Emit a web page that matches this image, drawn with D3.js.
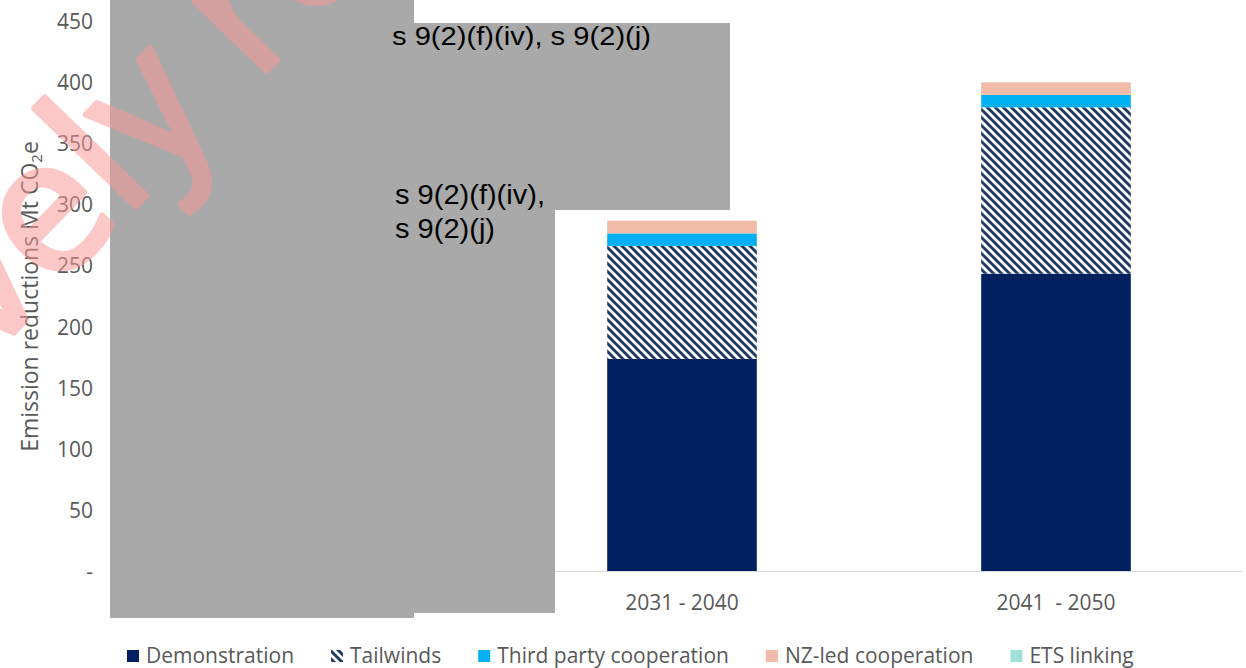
<!DOCTYPE html>
<html><head><meta charset="utf-8">
<script src="https://cdn.jsdelivr.net/npm/d3@7"></script>
<style>body{margin:0;background:#fff} svg{display:block}</style>
</head><body>
<svg id="chart" width="1246" height="668"></svg>
<script>
// ---- data ----
const categories = ["2021 - 2030", "2031 - 2040", "2041  - 2050"];
const seriesNames = ["Demonstration", "Tailwinds", "Third party cooperation", "NZ-led cooperation", "ETS linking"];
const demonstration = [70, 173.5, 243.3];
const tailwinds = [45, 92.5, 136.1];
const thirdParty = [8, 10.2, 10.1];
const nzLed = [8, 10.4, 10.3];
const etsLinking = [15, 0, 0];
const yTicks = [0, 50, 100, 150, 200, 250, 300, 350, 400, 450];
const redactionTop = ["s 9(2)(f)(iv), s 9(2)(j)"];
const redactionMid = ["s 9(2)(f)(iv),", "s 9(2)(j)"];
const watermarkText = "Proactively released";

// ---- setup ----
const svg = d3.select("#chart");
const FONT = "'Open Sans', sans-serif";
const TXT = "#595959";
const colors = ["#002060", "url(#hatch)", "#00b0f0", "#f0bca9", "#a1e2d6"];

const defs = svg.append("defs");
const pat = defs.append("pattern").attr("id", "hatch")
  .attr("patternUnits", "userSpaceOnUse").attr("width", 8).attr("height", 8);
pat.append("rect").attr("width", 8).attr("height", 8).attr("fill", "#fff");
pat.append("path").attr("d", "M-2,-2L10,10M-2,6L2,10M6,-2L10,2")
  .attr("stroke", "#1f3864").attr("stroke-width", 2.9);

const x = d3.scaleBand().domain(categories).range([121, 1243])
  .paddingInner(0.6).paddingOuter(0.3);
const y = d3.scaleLinear().domain([0, 450]).range([571, 21]);

const rows = categories.map((c, i) => ({
  cat: c,
  "Demonstration": demonstration[i],
  "Tailwinds": tailwinds[i],
  "Third party cooperation": thirdParty[i],
  "NZ-led cooperation": nzLed[i],
  "ETS linking": etsLinking[i]
}));
const stacked = d3.stack().keys(seriesNames)(rows);

// bars
svg.append("g").selectAll("g").data(stacked).join("g")
  .attr("fill", (d, i) => colors[i])
  .selectAll("rect").data(d => d).join("rect")
  .attr("x", d => x(d.data.cat))
  .attr("width", x.bandwidth())
  .attr("y", d => y(d[1]))
  .attr("height", d => Math.max(0, y(d[0]) - y(d[1])));

// baseline axis
svg.append("line").attr("x1", 121).attr("x2", 1243)
  .attr("y1", y(0) + 0.5).attr("y2", y(0) + 0.5)
  .attr("stroke", "#d9d9d9").attr("stroke-width", 1);

// y axis ticks (labels only)
const yAxis = d3.axisLeft(y).tickValues(yTicks).tickSize(0).tickPadding(0)
  .tickFormat(d => d === 0 ? "-" : d);
const yg = svg.append("g").attr("transform", "translate(93,0)").call(yAxis);
yg.select(".domain").remove();
yg.selectAll("text").attr("font-family", FONT).attr("font-size", 21)
  .attr("fill", TXT).attr("dy", null).attr("y", 7.5).attr("x", 0);

// x axis labels
const xAxis = d3.axisBottom(x).tickSize(0).tickPadding(0);
const xg = svg.append("g").attr("transform", "translate(0,571)").call(xAxis);
xg.select(".domain").remove();
xg.selectAll("text").attr("font-family", FONT).attr("font-size", 21)
  .attr("fill", TXT).attr("dy", null).attr("y", 39)
  .style("white-space", "pre");

// y axis title
const yt = svg.append("text").attr("transform", "translate(38,296.5) rotate(-90)")
  .attr("text-anchor", "middle").attr("font-family", FONT).attr("font-size", 23)
  .attr("fill", TXT);
yt.append("tspan").text("Emission reductions Mt CO");
yt.append("tspan").text("2").attr("font-size", 15).attr("dy", 4);
yt.append("tspan").text("e").attr("dy", -4);

// legend
const lg = svg.append("g");
let lx = 127;
seriesNames.forEach((name, i) => {
  lg.append("rect").attr("x", lx).attr("y", 650).attr("width", 12).attr("height", 12)
    .attr("fill", colors[i]);
  const t = lg.append("text").attr("x", lx + 19).attr("y", 663)
    .attr("font-family", FONT).attr("font-size", 21).attr("fill", TXT).text(name);
  lx += 19 + t.node().getComputedTextLength() + 37;
});

// redaction boxes
const grey = "#a9a9a9";
const boxes = svg.append("g").attr("fill", grey);
boxes.append("rect").attr("x", 110).attr("y", 0).attr("width", 304).attr("height", 618);
boxes.append("rect").attr("x", 110).attr("y", 23).attr("width", 620).attr("height", 187);
boxes.append("rect").attr("x", 110).attr("y", 210).attr("width", 445).attr("height", 403);

const RF = "'Liberation Sans', Arial, sans-serif";
svg.append("text").attr("x", 392).attr("y", 45).attr("font-family", RF)
  .attr("font-size", 25).attr("fill", "#000")
  .attr("textLength", 259).attr("lengthAdjust", "spacingAndGlyphs")
  .text(redactionTop[0]);
const midLens = [150, 100];
redactionMid.forEach((s, i) => {
  svg.append("text").attr("x", 395).attr("y", 204 + i * 34).attr("font-family", RF)
    .attr("font-size", 27).attr("fill", "#000")
    .attr("textLength", midLens[i]).attr("lengthAdjust", "spacingAndGlyphs")
    .text(s);
});

// watermark
const ANG = -46;
const wm = svg.append("g");
const wt = wm.append("text").text(watermarkText)
  .attr("font-family", FONT).attr("font-size", 186)
  .attr("fill", "#f99797").attr("stroke", "#f99797").attr("stroke-width", 6)
  .attr("stroke-linejoin", "round")
  .attr("opacity", 0.53);
const li = watermarkText.indexOf("ly");
const ext = wt.node().getExtentOfChar(li);
const lc = ext.x + ext.width / 2;
const a = ANG * Math.PI / 180;
wm.attr("transform", `translate(${141 - lc * Math.cos(a)},${201 - lc * Math.sin(a)}) rotate(${ANG})`);
</script>
</body></html>
